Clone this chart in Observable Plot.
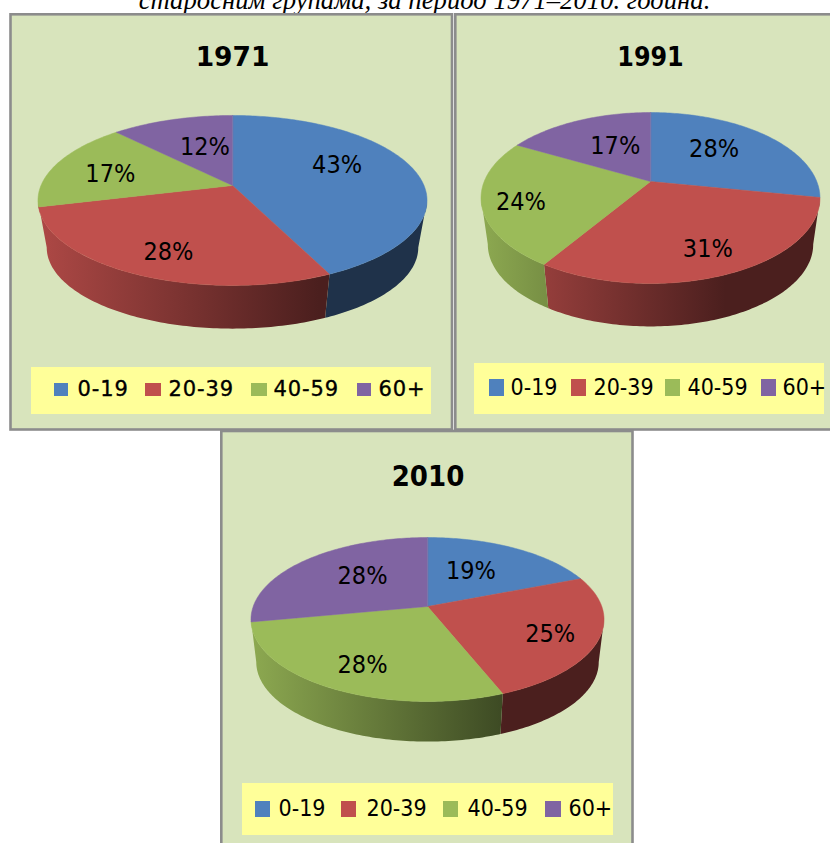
<!DOCTYPE html>
<html>
<head>
<meta charset="utf-8">
<style>html,body{margin:0;padding:0;background:#fff;overflow:hidden}svg{display:block}</style>
<script src="https://cdn.jsdelivr.net/npm/d3@7"></script>
<script src="https://cdn.jsdelivr.net/npm/@observablehq/plot@0.6"></script>
</head>
<body>
<script>
const caption = "старосним групама, за период 1971–2010. година.";
const years = ["1971", "1991", "2010"];
const ageGroups = ["0-19", "20-39", "40-59", "60+"];
const share1971 = [43, 28, 17, 12];
const share1991 = [28, 31, 24, 17];
const share2010 = [19, 25, 28, 28];
const shares = [share1971, share1991, share2010];
const sliceColors = ["#4F81BD", "#C0504D", "#9BBB59", "#8064A2"];

// Page layout of the three panels (not data)
const W = 830, H = 843;
const panels = [
  {x1: 10.5, x2: 452, y1: 14.3, y2: 429.5},
  {x1: 455.3, x2: 834, y1: 14.3, y2: 429.5},
  {x1: 221.3, x2: 632.5, y1: 431, y2: 850}
];
const views = [
  {cx: 232, ay: 185, rx: 191.5, ry: 82.35, k: 0.176, sc: 0.955, depth: 47.7,
   nudge: [[-5, -10], [-10, 17], [-15, 2], [11, 3]]},
  {cx: 650, ay: 181, rx: 166.3, ry: 82.3, k: 0.193, sc: 0.96, depth: 47,
   nudge: [[-8, -3], [13, 17], [-30, 8], [11, 3]]},
  {cx: 427, ay: 606, rx: 174.3, ry: 79.9, k: 0.1585, sc: 0.97, depth: 43,
   nudge: [[-11, 1], [23, 8], [-10, 13], [11, -2]]}
];
const titleStyles = [
  {x: 232, y: 57.5, font: "DejaVu Sans", size: 26.5},
  {x: 650, y: 57.5, font: "DejaVu Sans Condensed", size: 26.5},
  {x: 427.5, y: 476.5, font: "DejaVu Sans Condensed", size: 29}
];
const legends = [
  {box: [31, 431, 367, 414], sw: [[54, 68], [145, 161], [251, 267], [357, 371]], swY: [383, 396],
   tx: [77, 168, 273, 378], ty: 389, font: "DejaVu Sans", size: 21, spacing: 0.9, heavy: 0.35},
  {box: [474, 824, 363, 414], sw: [[489, 504], [571, 586], [665, 680], [761, 776]], swY: [379, 396],
   tx: [510, 593, 687, 782], ty: 387, font: "DejaVu Sans Condensed", size: 23, spacing: 0, heavy: 0},
  {box: [242, 613, 783, 835], sw: [[255, 270], [341, 356], [443, 458], [545, 561]], swY: [801, 817],
   tx: [278, 366, 467, 568], ty: 808, font: "DejaVu Sans Condensed", size: 23, spacing: 0, heavy: 0}
];

// perspective projection of a point on the disc: angle clockwise from 12 o'clock, r in 0..1
function project(v, theta, r = 1) {
  const s = Math.sin(theta), t = -Math.cos(theta), den = 1 - v.k * r * t;
  return [v.cx + v.rx * r * s / den, v.ay + v.ry * r * t / den];
}
function lower(v, p) {
  return [v.cx + (p[0] - v.cx) * v.sc, v.ay + v.depth + (p[1] - v.ay) * v.sc];
}
function tint(color, f) {
  const c = d3.rgb(color);
  return d3.rgb(c.r * f, c.g * f, c.b * f).formatHex();
}
const deg = Math.PI / 180;

const sideRows = [], topRows = [], labelRows = [], gradients = [];
shares.forEach((values, ci) => {
  const v = views[ci];
  const total = d3.sum(values);
  const ends = d3.cumsum(values).map(c => c / total * 2 * Math.PI);
  sliceColors.forEach((color, si) => gradients.push({
    gid: `wall-${ci}-${si}`, x1: v.cx - v.rx, x2: v.cx + 0.45 * v.rx,
    light: tint(color, 0.9), dark: tint(color, 0.39)
  }));
  // rim wall from the right silhouette to the left one, split where the facing slice changes
  const right = Math.acos(-v.k), left = 2 * Math.PI - right;
  const owner = a => {
    const c = Math.min(250 * deg, Math.max(110 * deg, a));
    return ends.findIndex(e => c < e);
  };
  const cuts = [...d3.range(Math.ceil(right / deg), left / deg).map(d => d * deg), right, left,
    ...ends.filter(e => e > right && e < left)].sort(d3.ascending);
  const runs = [];
  cuts.slice(0, -1).forEach((a, i) => {
    const b = cuts[i + 1];
    const si = owner((a + b) / 2);
    const last = runs[runs.length - 1];
    if (last && last.si === si) last.angles.push(b);
    else runs.push({si, angles: [a, b]});
  });
  runs.forEach(run => {
    const id = `${ci}-${run.si}`, fill = `url(#wall-${id})`;
    const rim = run.angles.map(a => project(v, a));
    [...rim, ...rim.slice().reverse().map(p => lower(v, p))].forEach(p => sideRows.push({id, x: p[0], y: p[1], fill}));
  });
  let a0 = 0;
  values.forEach((val, si) => {
    const a1 = ends[si];
    const mid = (a0 + a1) / 2;
    const n = Math.max(1, Math.ceil((a1 - a0) / deg));
    const angles = d3.range(n + 1).map(i => a0 + (a1 - a0) * i / n);
    const id = `${ci}-${si}`;
    topRows.push({id, x: v.cx, y: v.ay, fill: sliceColors[si]});
    angles.forEach(a => {
      const p = project(v, a);
      topRows.push({id, x: p[0], y: p[1], fill: sliceColors[si]});
    });
    const lp = project(v, mid, 0.6);
    labelRows.push({x: lp[0] + v.nudge[si][0], y: lp[1] + v.nudge[si][1], text: val + "%", ci});
    a0 = a1;
  });
});

const gradientDefs = () => {
  const defs = d3.create("svg:defs");
  const g = defs.selectAll("linearGradient").data(gradients).join("linearGradient")
    .attr("id", d => d.gid)
    .attr("gradientUnits", "userSpaceOnUse")
    .attr("x1", d => d.x1).attr("x2", d => d.x2)
    .attr("y1", 0).attr("y2", 0);
  g.append("stop").attr("offset", 0).attr("stop-color", d => d.light);
  g.append("stop").attr("offset", 1).attr("stop-color", d => d.dark);
  return defs.node();
};

const spaced = px => (index, scales, values, dims, ctx, next) => {
  const g = next(index, scales, values, dims, ctx);
  g.style.letterSpacing = px + "px";
  return g;
};

const legendMarks = legends.flatMap(l => [
  Plot.rect([l], {x1: d => d.box[0], x2: d => d.box[1], y1: d => d.box[2], y2: d => d.box[3], fill: "#FFFF99"}),
  Plot.rect(ageGroups, {x1: (d, i) => l.sw[i][0], x2: (d, i) => l.sw[i][1], y1: l.swY[0], y2: l.swY[1],
    fill: (d, i) => sliceColors[i]}),
  Plot.text(ageGroups, {x: (d, i) => l.tx[i], y: l.ty, text: d => d, textAnchor: "start", lineAnchor: "middle",
    fontFamily: l.font, fontSize: l.size, fill: "#000", stroke: l.heavy ? "#000" : "none", strokeWidth: l.heavy,
    render: spaced(l.spacing)})
]);

const titleMarks = years.map((y, i) => Plot.text([y], {
  x: titleStyles[i].x, y: titleStyles[i].y, text: d => d, lineAnchor: "middle",
  fontFamily: titleStyles[i].font, fontWeight: "bold", fontSize: titleStyles[i].size, fill: "#000"
}));

const chart = Plot.plot({
  width: W, height: H, margin: 0,
  x: {domain: [0, W], range: [0, W], axis: null},
  y: {domain: [0, H], range: [0, H], axis: null},
  color: {type: "identity"},
  style: {background: "#fff"},
  marks: [
    gradientDefs,
    Plot.text([caption], {x: 424, y: 0, text: d => d, lineAnchor: "middle", fontFamily: "Liberation Serif",
      fontStyle: "italic", fontSize: 26.7, fill: "#000"}),
    Plot.rect(panels, {x1: "x1", x2: "x2", y1: "y1", y2: "y2", fill: "#D8E4BC", stroke: "#8C8C8C", strokeWidth: 2.6}),
    Plot.line(sideRows, {x: "x", y: "y", z: "id", fill: "fill", stroke: "none", curve: "linear-closed"}),
    Plot.line(topRows, {x: "x", y: "y", z: "id", fill: "fill", stroke: "fill", strokeWidth: 0.5, curve: "linear-closed"}),
    Plot.text(labelRows, {x: "x", y: "y", text: "text", lineAnchor: "middle", fontFamily: "DejaVu Sans Condensed", fontSize: 25, fill: "#000"}),
    ...titleMarks,
    ...legendMarks
  ]
});
document.body.appendChild(chart);
</script>
</body>
</html>
